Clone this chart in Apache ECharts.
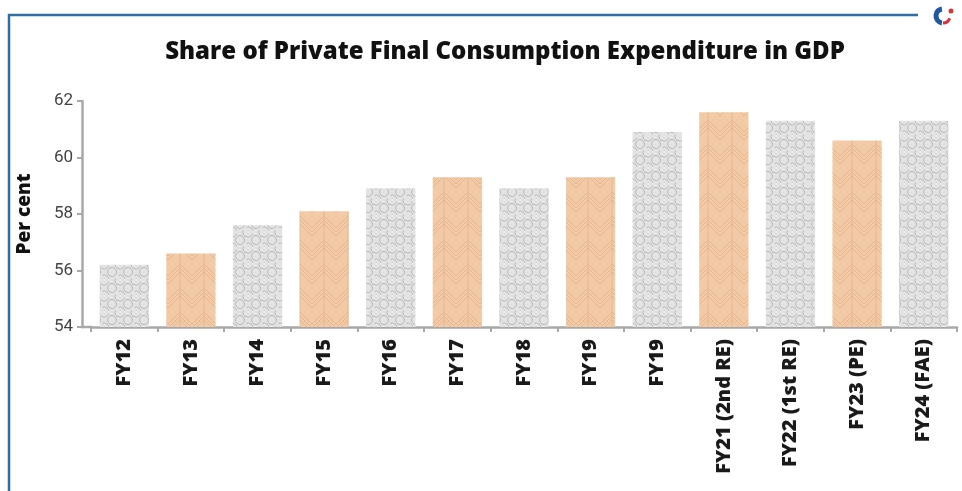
<!DOCTYPE html>
<html>
<head>
<meta charset="utf-8">
<style>
  html, body { margin: 0; padding: 0; background: #ffffff; }
  #chart { width: 962px; height: 491px; }
</style>
<script src="https://cdn.jsdelivr.net/npm/echarts@6/dist/echarts.min.js"></script>
</head>
<body>
<div id="chart"></div>
<script>
// Fiscal years and PFCE share of GDP (per cent)
const categories = ['FY12', 'FY13', 'FY14', 'FY15', 'FY16', 'FY17', 'FY18', 'FY19', 'FY19',
  'FY21 (2nd RE)', 'FY22 (1st RE)', 'FY23 (PE)', 'FY24 (FAE)'];
const shareValues = [56.2, 56.6, 57.6, 58.1, 58.9, 59.3, 58.9, 59.3, 60.9, 61.6, 61.3, 60.6, 61.3];
// which bars use the warm fill
const warmBars = [false, true, false, true, false, true, false, true, false, true, false, true, false];
const yTicks = [54, 56, 58, 60, 62];

// textured fills for the bars
function grayPattern() {
  const c = document.createElement('canvas');
  c.width = 16; c.height = 16;
  const g = c.getContext('2d');
  g.fillStyle = '#e3e3e3';
  g.fillRect(0, 0, 16, 16);
  g.strokeStyle = '#b8b8b8';
  g.lineWidth = 1;
  g.beginPath(); g.arc(8, 8, 5, 0.4, Math.PI * 1.1); g.stroke();
  g.beginPath(); g.arc(8, 8, 5, Math.PI * 1.4, Math.PI * 1.9); g.stroke();
  g.beginPath(); g.arc(0, 0, 4.5, 0, Math.PI / 2); g.stroke();
  g.beginPath(); g.arc(16, 16, 4.5, Math.PI, Math.PI * 1.5); g.stroke();
  g.beginPath(); g.arc(16, 0, 4.5, Math.PI / 2, Math.PI); g.stroke();
  g.beginPath(); g.arc(0, 16, 4.5, Math.PI * 1.5, Math.PI * 2); g.stroke();
  return c;
}
function warmPattern() {
  const c = document.createElement('canvas');
  c.width = 24; c.height = 24;
  const g = c.getContext('2d');
  g.fillStyle = '#f2caa6';
  g.fillRect(0, 0, 24, 24);
  g.strokeStyle = '#e6b68c';
  g.lineWidth = 1;
  for (let k = 0; k < 3; k++) {
    g.beginPath();
    g.moveTo(0, 12 + k * 4); g.lineTo(12, k * 4); g.lineTo(24, 12 + k * 4);
    g.stroke();
  }
  g.beginPath(); g.moveTo(12, 0); g.lineTo(12, 24); g.stroke();
  return c;
}
const grayFill = { image: grayPattern(), repeat: 'repeat' };
const warmFill = { image: warmPattern(), repeat: 'repeat' };

const axisGray = '#a8a8a8';
const chart = echarts.init(document.getElementById('chart'));
chart.setOption({
  animation: false,
  title: {
    text: 'Share of Private Final Consumption Expenditure in GDP',
    left: 500, top: 35, textAlign: 'center',
    textStyle: { fontFamily: 'Open Sans', fontWeight: 800, fontSize: 24, color: '#111' }
  },
  grid: { left: 91, right: 5, top: 101, bottom: 164 },
  xAxis: {
    type: 'category',
    data: categories,
    axisLine: { lineStyle: { color: axisGray, width: 2.5 } },
    axisTick: { show: true, length: 5, lineStyle: { color: axisGray, width: 2 } },
    axisLabel: {
      rotate: 90, interval: 0, margin: 12,
      fontFamily: 'Open Sans', fontWeight: 800, fontSize: 20, color: '#1a1a1a'
    }
  },
  yAxis: {
    type: 'value',
    min: 54, max: 62, interval: 2,
    offset: 9,
    name: 'Per cent',
    nameLocation: 'middle', nameRotate: 90, nameGap: 48,
    nameTextStyle: { fontFamily: 'Open Sans', fontWeight: 800, fontSize: 19, color: '#111' },
    axisLine: { show: true, lineStyle: { color: axisGray, width: 2.5 } },
    axisTick: { show: true, length: 5, lineStyle: { color: axisGray, width: 2 } },
    splitLine: { show: false },
    axisLabel: {
      margin: 9, fontFamily: 'Roboto', fontSize: 17, color: '#444',
      formatter: v => (yTicks.includes(v) ? String(v) : '')
    }
  },
  series: [{
    type: 'bar',
    barWidth: '74%',
    data: shareValues.map((v, i) => ({
      value: v,
      itemStyle: { color: warmBars[i] ? warmFill : grayFill }
    }))
  }],
  graphic: [
    // framing rule along the top and left edge
    { type: 'polyline', shape: { points: [[9, 491], [9, 15], [918, 15]] },
      style: { stroke: '#2f6da5', lineWidth: 2.5, fill: null } },
    // x axis line continuing to the offset y axis
    { type: 'line', shape: { x1: 81, y1: 327, x2: 92, y2: 327 },
      style: { stroke: axisGray, lineWidth: 2.5 } },
    // small round emblem at the end of the rule
    { type: 'circle', shape: { cx: 943, cy: 16, r: 9 }, style: { fill: '#ffffff' } },
    { type: 'arc', shape: { cx: 943, cy: 16, r: 7, startAngle: Math.PI * 0.55, endAngle: Math.PI * 1.45 },
      style: { stroke: '#1f57a0', lineWidth: 5, fill: null } },
    { type: 'arc', shape: { cx: 943, cy: 16, r: 7, startAngle: Math.PI * 0.1, endAngle: Math.PI * 0.5 },
      style: { stroke: '#d8343a', lineWidth: 3, fill: null } },
    { type: 'circle', shape: { cx: 951, cy: 11, r: 2.5 }, style: { fill: '#d8343a' } }
  ]
});
</script>
</body>
</html>
